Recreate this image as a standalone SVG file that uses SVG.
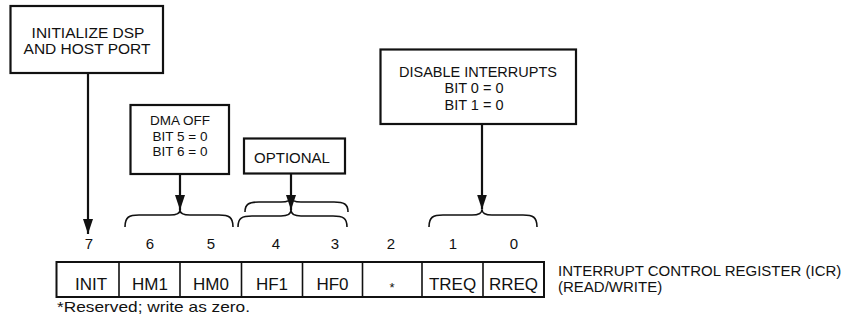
<svg xmlns="http://www.w3.org/2000/svg" width="853" height="321" viewBox="0 0 853 321">
<style>
text{font-family:"Liberation Sans",Arial,sans-serif;fill:#111}
.box{fill:#fff;stroke:#111;stroke-width:2.2}
.lbl{font-size:15px;text-anchor:middle}
.num{font-size:15px;text-anchor:middle}
.cell{font-size:17px;text-anchor:middle}
.reg{fill:#fff;stroke:#111;stroke-width:2}
.div{stroke:#111;stroke-width:1.6}
.arrow{fill:none;stroke:#111;stroke-width:2.2;marker-end:url(#ah)}
.brace{fill:none;stroke:#111;stroke-width:1.6}
</style>
<defs>
<marker id="ah" markerUnits="userSpaceOnUse" markerWidth="15" markerHeight="10" refX="15" refY="5" orient="auto">
<path d="M0,0 L15,5 L0,10 z" fill="#111"/>
</marker>
</defs>
<rect width="853" height="321" fill="#fff"/>

<g id="init-box">
<rect class="box" x="10.5" y="6" width="152.5" height="67"/>
<text class="lbl" x="88" y="38" style="font-size:15.5px">INITIALIZE DSP</text>
<text class="lbl" x="87" y="54" style="font-size:15.5px">AND HOST PORT</text>
</g>

<g id="dma-box">
<rect class="box" x="130.5" y="105" width="98.5" height="69"/>
<text class="lbl" x="180" y="125" style="font-size:13.5px">DMA OFF</text>
<text class="lbl" x="180" y="140.5" style="font-size:13.5px">BIT 5 = 0</text>
<text class="lbl" x="180" y="156" style="font-size:13.5px">BIT 6 = 0</text>
</g>

<g id="optional-box">
<rect class="box" x="244" y="138.5" width="101" height="35"/>
<text class="lbl" x="292" y="163">OPTIONAL</text>
</g>

<g id="disable-box">
<rect class="box" x="380.5" y="49.5" width="195.5" height="74.5"/>
<text class="lbl" x="478" y="76.5" style="font-size:14.5px">DISABLE INTERRUPTS</text>
<text class="lbl" x="474" y="93" style="font-size:14.5px">BIT 0 = 0</text>
<text class="lbl" x="474" y="109.5" style="font-size:14.5px">BIT 1 = 0</text>
</g>

<g id="connectors">
<path class="arrow" d="M88,73 L88,234"/>
<path class="arrow" d="M180,174 L180,210"/>
<path class="arrow" d="M291,173.5 L291,210"/>
<path class="arrow" d="M482,124 L482,209.5"/>
<path class="brace" d="M125,227 C125,217 129,215 139,215 L170,215 C176,215 180,214 180,210 C180,214 184,215 190,215 L219,215 C229,215 233,217 233,227"/>
<path class="brace" d="M245,212 C245,204 249,202 259,202 L281,202 C287,202 291,201 291,197 C291,201 295,202 301,202 L334,202 C344,202 348,204 348,212"/>
<path class="brace" d="M238,227 C238,218 242,216 252,216 L281,216 C287,216 291,215 291,210 C291,215 295,216 301,216 L333,216 C343,216 347,218 347,227"/>
<path class="brace" d="M429,227 C429,217 433,215 443,215 L472,215 C478,215 482,214 482,209.5 C482,214 486,215 492,215 L523,215 C533,215 537,217 537,227"/>
</g>

<g id="bit-numbers">
<text class="num" x="89" y="249">7</text>
<text class="num" x="150" y="249">6</text>
<text class="num" x="211" y="249">5</text>
<text class="num" x="276" y="249">4</text>
<text class="num" x="335" y="249">3</text>
<text class="num" x="391" y="249">2</text>
<text class="num" x="453" y="249">1</text>
<text class="num" x="514" y="249">0</text>
</g>

<g id="register">
<rect class="reg" x="56.5" y="262" width="487.5" height="35"/>
<line class="div" x1="119" y1="262" x2="119" y2="297"/>
<line class="div" x1="180" y1="262" x2="180" y2="297"/>
<line class="div" x1="241.5" y1="262" x2="241.5" y2="297"/>
<line class="div" x1="302.5" y1="262" x2="302.5" y2="297"/>
<line class="div" x1="362.5" y1="262" x2="362.5" y2="297"/>
<line class="div" x1="422" y1="262" x2="422" y2="297"/>
<line class="div" x1="483" y1="262" x2="483" y2="297"/>
<text class="cell" x="91" y="290">INIT</text>
<text class="cell" x="150" y="290">HM1</text>
<text class="cell" x="211" y="290">HM0</text>
<text class="cell" x="272" y="290">HF1</text>
<text class="cell" x="332.5" y="290">HF0</text>
<text class="cell" x="392" y="292" style="font-size:13px">*</text>
<text class="cell" x="452.5" y="290">TREQ</text>
<text class="cell" x="513.5" y="290">RREQ</text>
</g>

<g id="register-label">
<text x="558" y="276" style="font-size:15px">INTERRUPT CONTROL REGISTER (ICR)</text>
<text x="558" y="292" style="font-size:15px">(READ/WRITE)</text>
</g>

<g id="footnote">
<text x="57" y="312" style="font-size:15px" textLength="193" lengthAdjust="spacingAndGlyphs">*Reserved; write as zero.</text>
</g>
</svg>
